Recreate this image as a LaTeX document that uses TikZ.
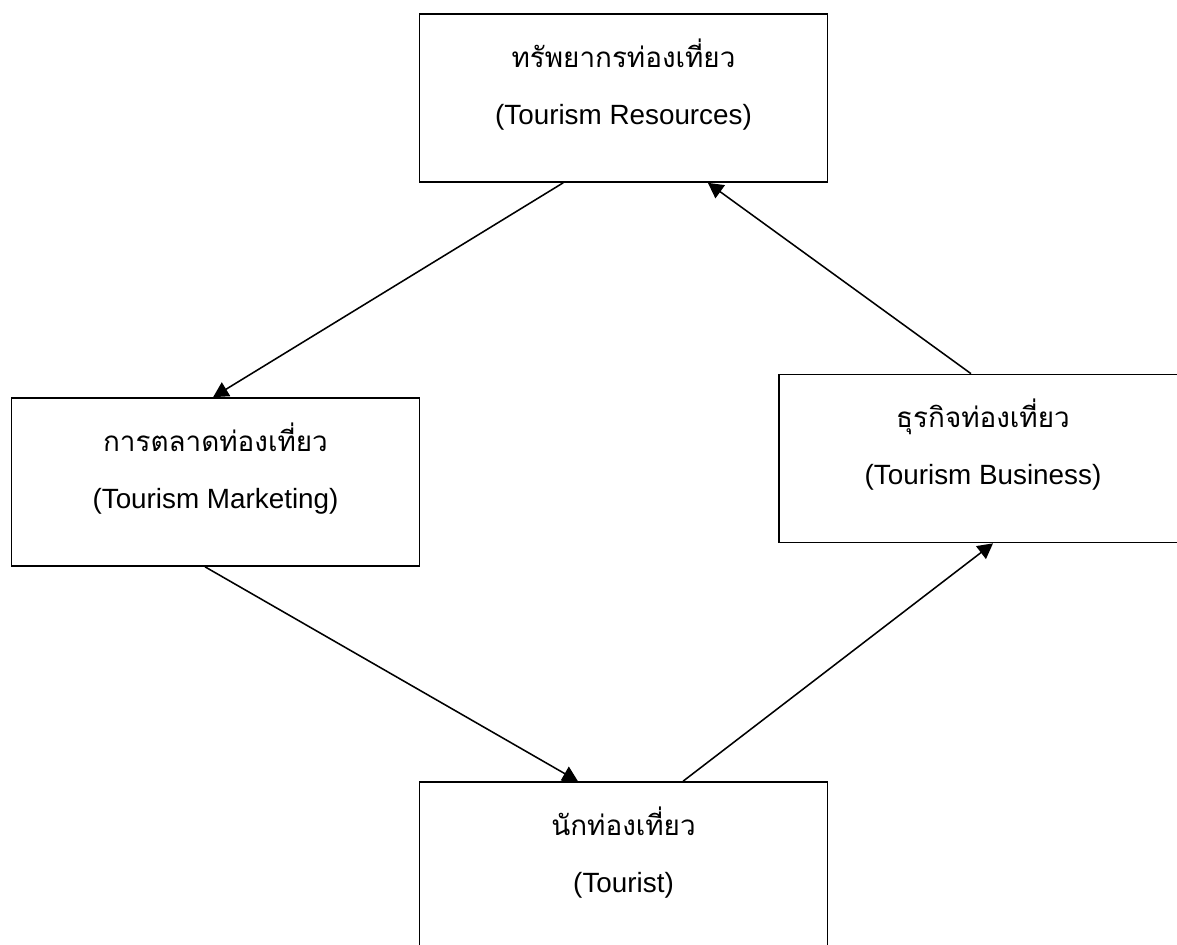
\documentclass[tikz,border=0pt]{standalone}
\usepackage{fontspec}
\setmainfont{Liberation Sans}
\newfontfamily\thaifont[Script=Thai]{Loma}
\usetikzlibrary{positioning, calc, arrows.meta}
\tikzset{
	boxnode/.style={draw, line width=1.2pt, minimum width=10.2cm, minimum height=4.2cm,
	  align=center, font=\fontsize{19.8}{23.5}\selectfont}
}
\tikzset{
	linkarrow/.style={line width=1.1pt, -{Triangle[length=0.38cm, width=0.4cm]}}
}
\newcommand{\thline}[1]{{\thaifont #1}}

\begin{document}
\begin{tikzpicture}
      \useasboundingbox (0,0) rectangle (29.425,-23.6);
      \clip (0,0) rectangle (29.425,-23.6);
      \node[boxnode] (res) at (15.5875,-2.45) {\thline{ทรัพยากรท่องเที่ยว}\\[0.6cm](Tourism Resources)\\\mbox{}};
      \node[boxnode] (mkt) at (5.3875,-12.05) {\thline{การตลาดท่องเที่ยว}\\[0.6cm](Tourism Marketing)\\\mbox{}};
      \node[boxnode] (biz) at (24.575,-11.4625) {\thline{ธุรกิจท่องเที่ยว}\\[0.6cm](Tourism Business)\\\mbox{}};
      \node[boxnode] (tour) at (15.5875,-21.65) {\thline{นักท่องเที่ยว}\\[0.6cm](Tourist)\\\mbox{}};
      % cycle of arrows
      \draw[linkarrow] ([xshift=-1.51cm]res.south) -- ([xshift=-0.06cm]mkt.north);
      \draw[linkarrow] ([xshift=-0.26cm]mkt.south) -- ([xshift=-1.14cm]tour.north);
      \draw[linkarrow] ([xshift=1.49cm]tour.north) -- ([xshift=0.25cm]biz.south);
      \draw[linkarrow] ([xshift=-0.3cm]biz.north) -- ([xshift=2.11cm]res.south);
\end{tikzpicture}
\end{document}
